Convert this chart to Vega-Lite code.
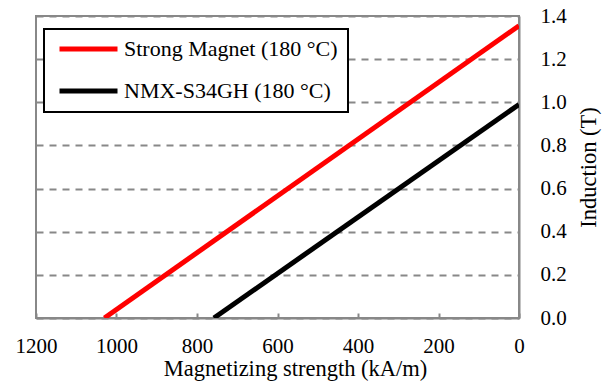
{
  "$schema": "https://vega.github.io/schema/vega-lite/v6.json",
  "width": 483,
  "height": 302,
  "autosize": "none",
  "padding": {"left": 36, "top": 16, "right": 90, "bottom": 67},
  "background": "white",
  "config": {
    "font": "Liberation Serif, Times New Roman, serif",
    "view": {"stroke": "#888888", "strokeWidth": 2},
    "axis": {"labelFont": "Liberation Serif, Times New Roman, serif", "titleFont": "Liberation Serif, Times New Roman, serif", "labelColor": "black", "titleColor": "black", "titleFontWeight": "normal"},
    "legend": {"labelFont": "Liberation Serif, Times New Roman, serif"}
  },
  "data": {
    "values": [
      {"series": "Strong Magnet (180 °C)", "H": 1030, "B": 0},
      {"series": "Strong Magnet (180 °C)", "H": 0, "B": 1.355},
      {"series": "NMX-S34GH (180 °C)", "H": 758, "B": 0},
      {"series": "NMX-S34GH (180 °C)", "H": 0, "B": 0.99}
    ]
  },
  "mark": {"type": "line", "strokeWidth": 5, "clip": true},
  "encoding": {
    "x": {
      "field": "H", "type": "quantitative",
      "scale": {"domain": [0, 1200], "reverse": true, "nice": false, "zero": false},
      "axis": {
        "title": "Magnetizing strength (kA/m)",
        "values": [0, 200, 400, 600, 800, 1000, 1200],
        "format": "d",
        "grid": false,
        "domainColor": "#888888", "domainWidth": 2,
        "tickColor": "#888888", "tickWidth": 2, "tickSize": -5,
        "labelFontSize": 21, "labelPadding": 22, "labelFlush": false,
        "titleFontSize": 22.5, "titlePadding": 1,
        "titleX": 259, "titleAlign": "center"
      }
    },
    "y": {
      "field": "B", "type": "quantitative",
      "scale": {"domain": [0, 1.4], "nice": false},
      "axis": {
        "orient": "right",
        "title": "Induction (T)",
        "values": [0, 0.2, 0.4, 0.6, 0.8, 1.0, 1.2, 1.4],
        "format": ".1f",
        "grid": true, "gridColor": "#888888", "gridWidth": 2, "gridDash": [7, 6], "gridOpacity": 1,
        "domainColor": "#888888", "domainWidth": 2,
        "ticks": false,
        "labelFontSize": 21, "labelPadding": 21,
        "titleFontSize": 22.5, "titleAngle": 270, "titleBaseline": "top", "titlePadding": 11
      }
    },
    "color": {
      "field": "series", "type": "nominal",
      "scale": {"domain": ["Strong Magnet (180 °C)", "NMX-S34GH (180 °C)"], "range": ["#ff0000", "#000000"]},
      "legend": {
        "title": null,
        "orient": "none",
        "legendX": 8,
        "legendY": 13,
        "symbolType": "stroke",
        "symbolSize": 3364,
        "symbolStrokeWidth": 5,
        "symbolOffset": 3,
        "clipHeight": 20,
        "labelFontSize": 22,
        "labelColor": "black",
        "labelOffset": 4,
        "labelLimit": 400,
        "rowPadding": 20,
        "padding": 10,
        "strokeColor": "black",
        "fillColor": "white",
        "encode": {"legend": {"update": {"strokeWidth": {"value": 2}}}}
      }
    }
  }
}
